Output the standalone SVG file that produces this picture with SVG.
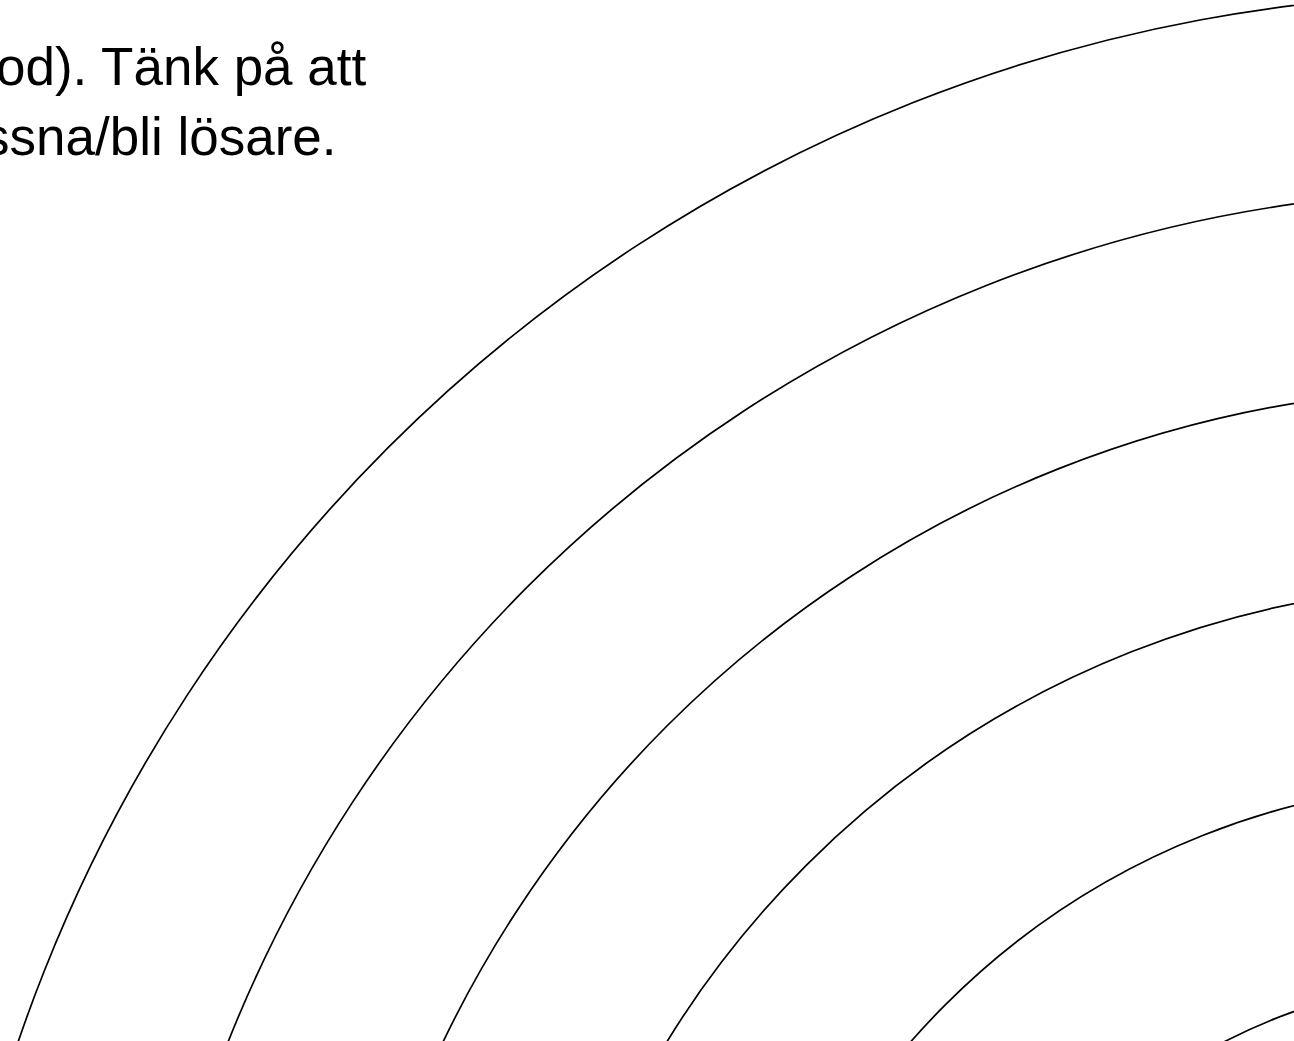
<svg xmlns="http://www.w3.org/2000/svg" width="1294" height="1041" viewBox="0 0 1294 1041">
  <style>
    .arc { fill: none; stroke: #000; stroke-width: 1.7; }
    .txt { font-family: "Liberation Sans", Arial, sans-serif; font-size: 53px; fill: #000; }
  </style>
  <rect x="0" y="0" width="1294" height="1041" fill="#fff"/>
  <g id="arcs">
    <circle id="arc1" class="arc" cx="1482.8" cy="1541.4" r="1547.5"/>
    <circle id="arc2" class="arc" cx="1482.8" cy="1541.4" r="1350.5"/>
    <circle id="arc3" class="arc" cx="1482.8" cy="1541.4" r="1153.5"/>
    <circle id="arc4" class="arc" cx="1482.8" cy="1541.4" r="956.5"/>
    <circle id="arc5" class="arc" cx="1482.8" cy="1541.4" r="759.5"/>
    <circle id="arc6" class="arc" cx="1482.8" cy="1541.4" r="562.5"/>
  </g>
  <g id="caption">
    <text class="txt" x="-4" y="85">od). Tänk på att</text>
    <text class="txt" x="-17" y="155">ssna/bli lösare.</text>
  </g>
</svg>
